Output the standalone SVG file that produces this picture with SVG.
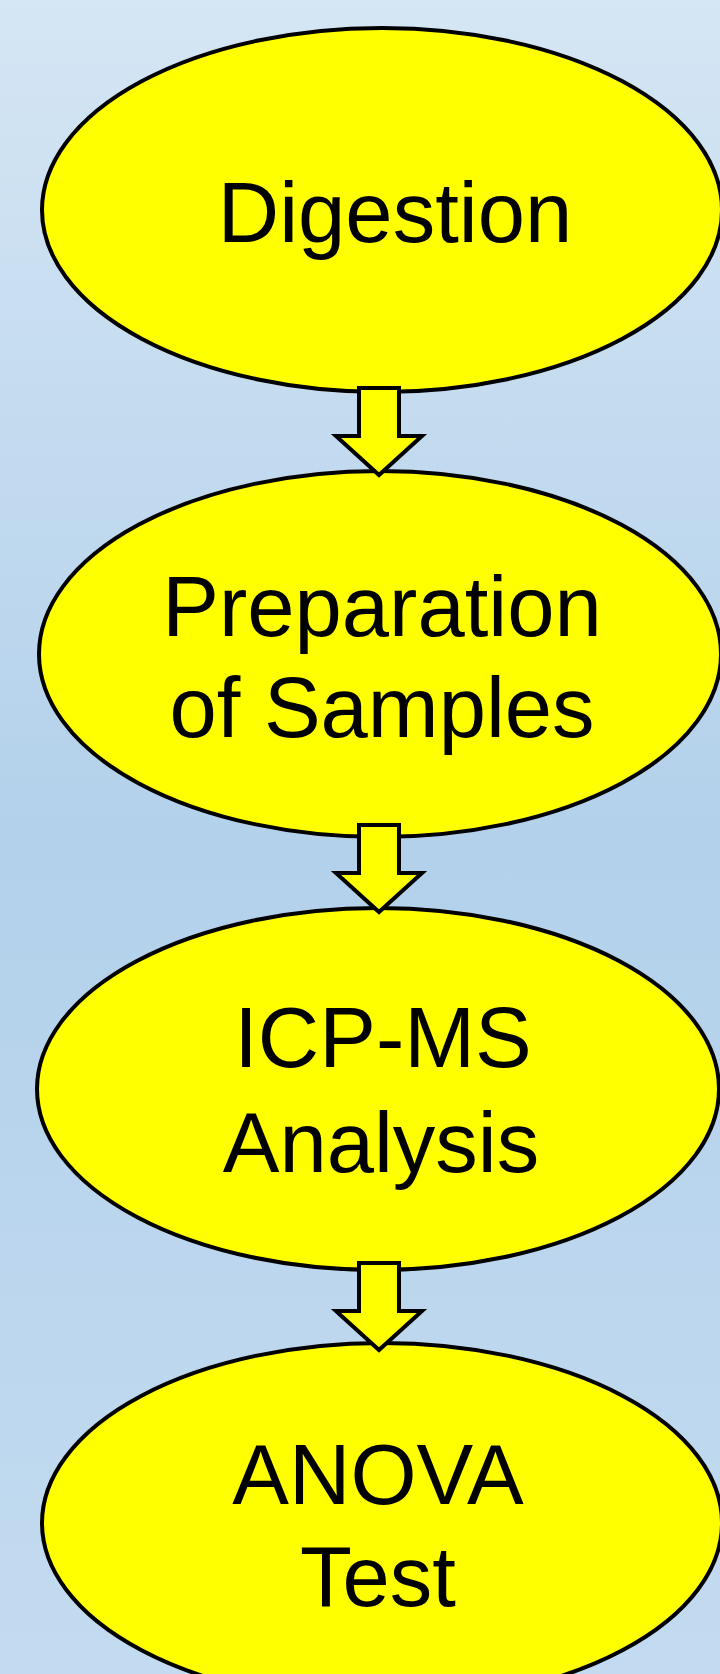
<svg xmlns="http://www.w3.org/2000/svg" width="720" height="1674" viewBox="0 0 720 1674">
  <defs>
    <linearGradient id="bg" x1="0" y1="0" x2="0" y2="1">
      <stop offset="0" stop-color="#d5e6f4"/>
      <stop offset="0.5" stop-color="#b3d1eb"/>
      <stop offset="1" stop-color="#c3dbf0"/>
    </linearGradient>
  </defs>
  <style>
    .node ellipse { fill: #ffff00; stroke: #000; stroke-width: 4; }
    .label { font-family: "Liberation Sans", Arial, sans-serif; font-size: 85px; fill: #000; text-anchor: middle; }
    .arrow { fill: #ffff00; stroke: #000; stroke-width: 4; stroke-linejoin: miter; }
  </style>
  <rect x="0" y="0" width="720" height="1674" fill="url(#bg)"/>

  <g id="node-digestion" class="node">
    <ellipse cx="382" cy="210" rx="340" ry="182"/>
    <text class="label" x="395" y="242">Digestion</text>
  </g>
  <g id="node-preparation" class="node">
    <ellipse cx="380" cy="654" rx="341" ry="183"/>
    <text class="label" x="382" y="636">Preparation</text>
    <text class="label" x="382" y="737">of Samples</text>
  </g>
  <g id="node-icpms" class="node">
    <ellipse cx="378" cy="1089" rx="341" ry="181"/>
    <text class="label" x="383" y="1067">ICP-MS</text>
    <text class="label" x="381" y="1172">Analysis</text>
  </g>
  <g id="node-anova" class="node">
    <ellipse cx="382" cy="1523" rx="340" ry="180"/>
    <text class="label" x="378" y="1504">ANOVA</text>
    <text class="label" x="378" y="1606">Test</text>
  </g>

  <g id="connectors">
    <path class="arrow" d="M359,388 H399 V436 H422 L379,475 L336,436 H359 Z"/>
    <path class="arrow" d="M359,825 H399 V873 H422 L379,912 L336,873 H359 Z"/>
    <path class="arrow" d="M359,1263 H399 V1311 H422 L379,1350 L336,1311 H359 Z"/>
  </g>
</svg>
